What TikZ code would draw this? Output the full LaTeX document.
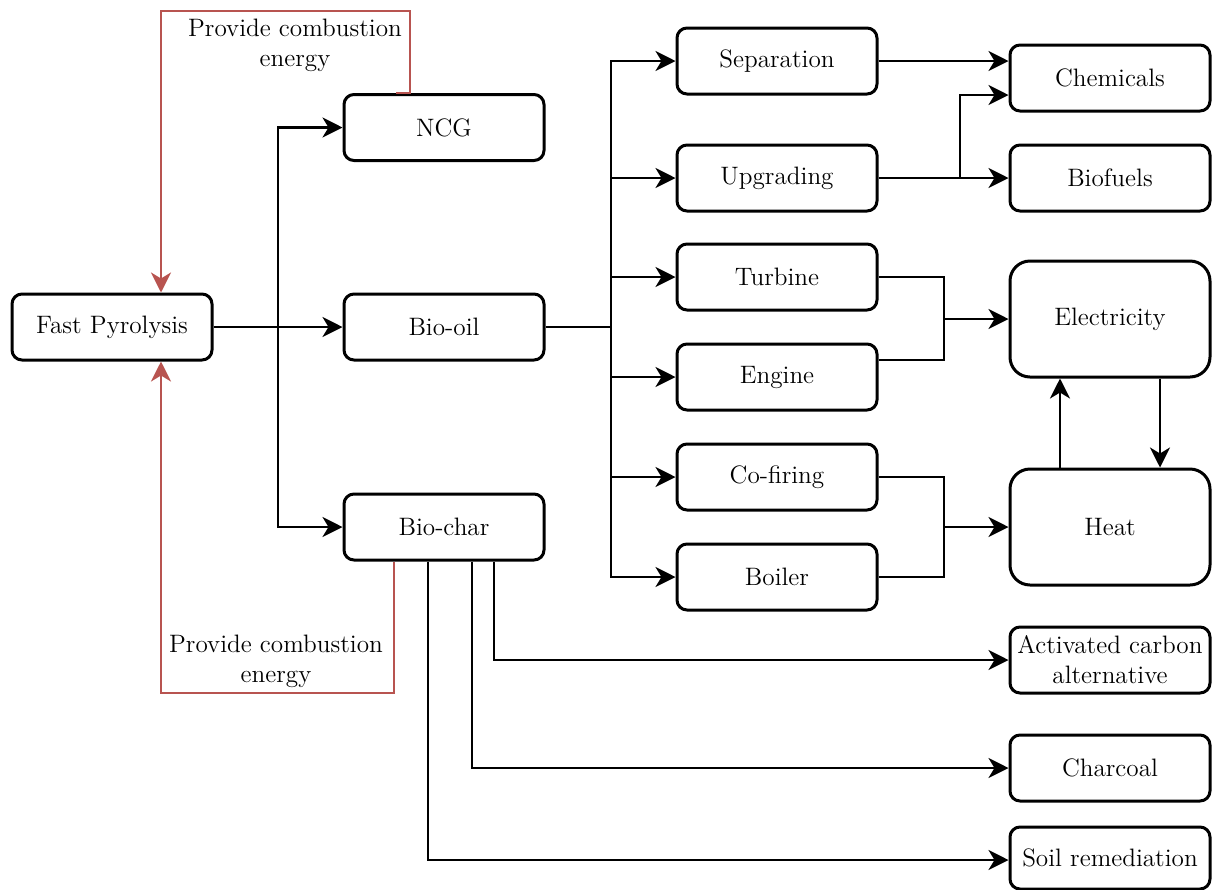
\documentclass[tikz,border=0pt]{standalone}
\usetikzlibrary{arrows.meta}
\definecolor{redline}{RGB}{184,84,80}
\begin{document}
\begin{tikzpicture}[x=0.5pt,y=-0.5pt,
  font=\fontsize{12.6}{15}\selectfont,
  box/.style={draw, line width=1.5pt, rounded corners=5pt, minimum width=100pt, minimum height=33pt, inner sep=1pt, align=center},
  bigbox/.style={box, rounded corners=10pt, minimum height=58pt},
  conn/.style={line width=1.4pt, -{Stealth[length=10pt,width=10pt,inset=3pt]}},
  plain/.style={line width=1.4pt},
  redconn/.style={line width=1.4pt, draw=redline, -{Stealth[length=10pt,width=10pt,inset=3pt]}},
  lbl/.style={align=center, inner sep=0pt}]
\useasboundingbox (0,0) rectangle (1212,890);
% nodes
\node[box] (fp) at (112,327) {Fast Pyrolysis};
\node[box] (ncg) at (444,127.5) {NCG};
\node[box] (oil) at (444,327) {Bio-oil};
\node[box] (char) at (444,527) {Bio-char};
\node[box] (sep) at (777,61) {Separation};
\node[box] (upg) at (777,178) {Upgrading};
\node[box] (tur) at (777,277) {Turbine};
\node[box] (eng) at (777,377) {Engine};
\node[box] (cof) at (777,477) {Co-firing};
\node[box] (boi) at (777,577) {Boiler};
\node[box] (chem) at (1110,78) {Chemicals};
\node[box] (bio) at (1110,178) {Biofuels};
\node[bigbox] (ele) at (1110,319) {Electricity};
\node[bigbox] (heat) at (1110,527) {Heat};
\node[box] (act) at (1110,660) {Activated carbon\\alternative};
\node[box] (coal) at (1110,768) {Charcoal};
\node[box, minimum height=31pt] (soil) at (1110,858) {Soil remediation};
% coordinates
\coordinate (b1) at (278,327);
\coordinate (b2) at (611,327);
\coordinate (b3) at (960,178);
\coordinate (b4) at (944,319);
\coordinate (b5) at (944,527);
% fast pyrolysis branches
\draw[conn] (fp.east) -- (oil.west);
\draw[conn] (b1) |- (ncg.west);
\draw[conn] (b1) |- (char.west);
% bio-oil branches
\draw[plain] (oil.east) -- (b2);
\draw[conn] (b2) |- (sep.west);
\draw[conn] (b2) |- (upg.west);
\draw[conn] (b2) |- (tur.west);
\draw[conn] (b2) |- (eng.west);
\draw[conn] (b2) |- (cof.west);
\draw[conn] (b2) |- (boi.west);
% separation / upgrading
\draw[conn] (sep.east) -- (sep.east -| chem.west);
\draw[conn] (upg.east) -- (bio.west);
\draw[conn] (b3) |- (chem.west |- 0,95);
% electricity
\draw[plain] (tur.east) -| (b4);
\draw[plain] (eng.east |- 0,360) -| (b4);
\draw[conn] (b4) -- (ele.west);
% heat
\draw[plain] (cof.east) -| (b5);
\draw[plain] (boi.east) -| (b5);
\draw[conn] (b5) -- (heat.west);
\draw[conn] (heat.north -| 1060,0) -- (ele.south -| 1060,0);
\draw[conn] (ele.south -| 1160,0) -- (heat.north -| 1160,0);
% bio-char products
\draw[conn] (char.south -| 494,0) |- (act.west);
\draw[conn] (char.south -| 472,0) |- (coal.west);
\draw[conn] (char.south -| 428,0) |- (soil.west |- 0,860);
% red feedback
\draw[redconn] (ncg.north -| 396,0) -- (ncg.north -| 410,0) -- (410,11) -- (161,11) -- (fp.north -| 161,0);
\draw[redconn] (char.south -| 394,0) -- (394,693) -- (161,693) -- (fp.south -| 161,0);
\node[lbl] (l1) at (295,45) {Provide combustion\\energy};
\node[lbl] (l2) at (276,661) {Provide combustion\\energy};
\end{tikzpicture}
\end{document}
